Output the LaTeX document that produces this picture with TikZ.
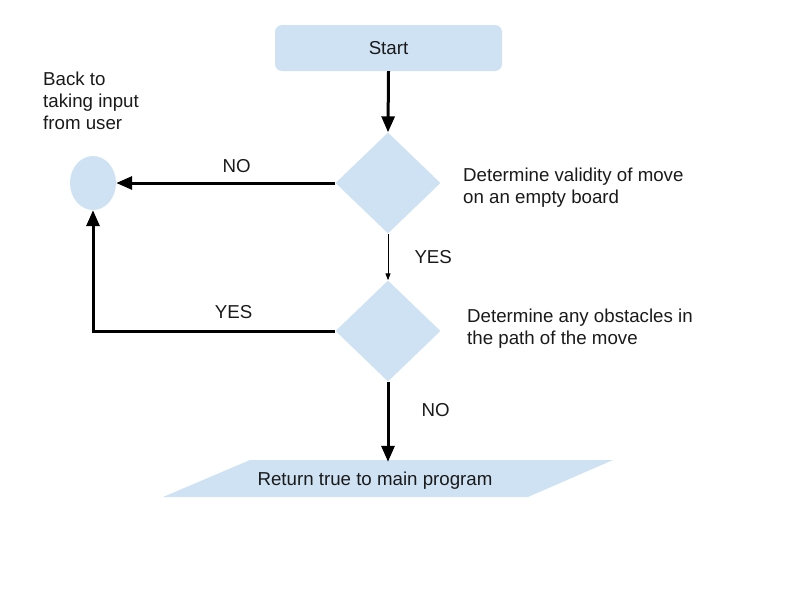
\documentclass[tikz,border=0pt]{standalone}
\usepackage{fontspec}
\setmainfont{Liberation Sans}
\usepackage{xcolor}
\usetikzlibrary{positioning, arrows.meta, calc, shapes.geometric}
\definecolor{boxblue}{HTML}{CFE2F3}
\definecolor{inktext}{HTML}{1A1A1A}

\tikzset{
  base/.style={font=\fontsize{18.7}{22}\selectfont, text=inktext},
  startbox/.style={base, fill=boxblue, rounded corners=7pt, minimum width=227pt, minimum height=46pt, inner sep=0pt},
  decision/.style={diamond, fill=boxblue, inner sep=0pt, minimum width=105pt, minimum height=101pt},
  backdot/.style={ellipse, fill=boxblue, inner sep=0pt, minimum width=46pt, minimum height=54pt},
  lbl/.style={base, inner sep=0pt},
  note/.style={base, inner sep=0pt, align=left, anchor=west},
  thickarrow/.style={line width=3pt, -{Triangle[length=16pt, width=13pt]}},
  thinarrow/.style={line width=1pt, -{Triangle[length=7pt, width=5pt]}}
}

\begin{document}
\begin{tikzpicture}[x=1pt, y=-1pt]
    \useasboundingbox (0,0) rectangle (800,600);

    % shapes
    \node[startbox] (start) at (388.5,48) {Start};
    \node[decision] (d1) at (388,183) {};
    \node[decision] (d2) at (388,331) {};
    \node[backdot] (back) at (93,183) {};
    \fill[boxblue] (163,497) -- (250,460) -- (613,460) -- (528,497) -- cycle;
    \node[lbl, minimum height=38pt] (ret) at (375,481) {Return true to main program};

    % side texts
    \node[note] (backtxt) at (43,101) {Back to\\taking input\\from user};
    \node[note] (d1txt) at (463,188) {Determine validity of move\\on an empty board};
    \node[note] (d2txt) at (467,329) {Determine any obstacles in\\the path of the move};

    % connectors
    \draw[thickarrow] (start.south) -- (d1.north);
    \draw[thickarrow] (d1.west) -- (back.east) node[lbl, pos=0.45, above=9pt] {NO};
    \draw[thinarrow] (d1.south) -- (d2.north) node[lbl, midway, right=26pt] {YES};
    \draw[thickarrow] (d2.west) -| (back.south) node[lbl, pos=0.21, above=11pt] {YES};
    \draw[thickarrow] (d2.south) -- (d2.south |- ret.north) node[lbl, pos=0.36, right=32pt] {NO};
\end{tikzpicture}
\end{document}
